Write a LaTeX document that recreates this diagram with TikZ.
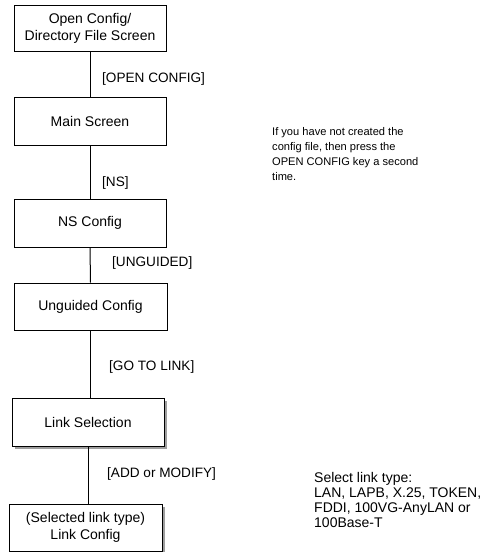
\documentclass[tikz,border=0pt]{standalone}
\usepackage{fontspec}
\setmainfont{Liberation Sans}
\begin{document}
\begin{tikzpicture}[x=1pt,y=-1pt,
  boxst/.style={draw=black,line width=1pt,fill=white,inner sep=0pt,align=center,
    font=\fontsize{14}{17}\selectfont,minimum height=47pt},
  shad/.style={fill=black!38,draw=none},
  lbl/.style={anchor=west,inner sep=0pt,font=\fontsize{13.6}{16}\selectfont},
  conn/.style={line width=1pt,draw=black}]
\useasboundingbox[fill=white] (0,0) rectangle (484,552);
% shadows
\fill[shad] (15,401) rectangle (167,449);
\fill[shad] (12,507) rectangle (165,554);
\node[boxst,minimum width=152pt,minimum height=46pt] (b1) at (90,28) {Open Config/\\Directory File Screen};
\node[boxst,minimum width=152pt,minimum height=48pt] (b2) at (90,121) {Main Screen};
\node[boxst,minimum width=152pt,minimum height=48pt] (b3) at (90,223) {NS Config};
\node[boxst,minimum width=153pt,minimum height=47pt] (b4) at (90.5,306.5) {Unguided Config};
\node[boxst,minimum width=152pt,minimum height=48pt] (b5) at (88,422) {Link Selection};
\node[boxst,minimum width=153pt,minimum height=47pt] (b6) at (85.5,527.5) {(Selected link type)\\Link Config};
\draw[conn] (b1.south) -- (b2.north);
\draw[conn] (b2.south) -- (b3.north);
\draw[conn] (b3.south) -- (b4.north);
\draw[conn] (b4.south) -- (b4.south |- b5.north);
\draw[conn] (b5.south) -- (b5.south |- b6.north);
\node[lbl] (l1) at (102,79) {[OPEN CONFIG]};
\node[lbl] (l2) at (102,183) {[NS]};
\node[lbl] (l3) at (112,263) {[UNGUIDED]};
\node[lbl] (l4) at (109,367) {[GO TO LINK]};
\node[lbl] (l5) at (107,474) {[ADD or MODIFY]};
\node[anchor=west,inner sep=0pt,align=left,font=\fontsize{11.1}{15}\selectfont] (note) at (272,154)
  {If you have not created the\\config file, then press the\\OPEN CONFIG key a second\\time.};
\node[anchor=west,inner sep=0pt,align=left,font=\fontsize{14}{15}\selectfont] (sel) at (314,499.5)
  {Select link type:\\LAN, LAPB, X.25, TOKEN,\\FDDI, 100VG-AnyLAN or\\100Base-T};
\end{tikzpicture}
\end{document}
